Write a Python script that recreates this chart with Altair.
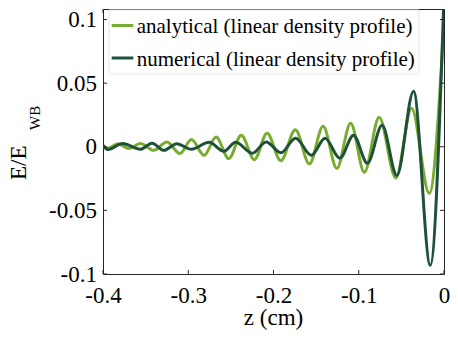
import altair as alt
import pandas as pd

# ---- data ----
z_analytical = [-0.4, -0.3942, -0.3827, -0.3692, -0.3562, -0.3404, -0.3251, -0.3097, -0.2963,
                -0.2813, -0.2674, -0.2524, -0.2378, -0.2225, -0.2075, -0.1914, -0.1744, -0.1579,
                -0.1418, -0.1257, -0.1095, -0.0934, -0.0761, -0.0565, -0.0380, -0.0173, 0.0]
e_analytical = [0.0004, -0.0012, 0.0024, -0.0014, 0.0025, -0.0028, 0.0038, -0.0053, 0.0057,
                -0.0067, 0.0077, -0.0093, 0.0090, -0.0101, 0.0106, -0.0110, 0.0134, -0.0134,
                0.0161, -0.0169, 0.0185, -0.0200, 0.0232, -0.0245, 0.0303, -0.0366, 0.0971]

z_numerical = [-0.4, -0.3942, -0.3769, -0.3562, -0.3424, -0.3285, -0.3135, -0.2963, -0.2755,
               -0.2582, -0.2444, -0.2248, -0.2086, -0.1914, -0.1741, -0.1556, -0.1395, -0.1222,
               -0.1061, -0.0899, -0.0726, -0.0553, -0.0357, -0.0161, 0.0]
e_numerical = [0.0012, -0.0022, 0.0025, -0.0020, 0.0028, -0.0028, 0.0024, -0.0020, 0.0035,
               -0.0035, 0.0035, -0.0051, 0.0038, -0.0047, 0.0067, -0.0067, 0.0067, -0.0090,
               0.0090, -0.0130, 0.0169, -0.0225, 0.0436, -0.0932, 0.119]

x_ticks = [-0.4, -0.3, -0.2, -0.1, 0]
y_ticks = [-0.1, -0.05, 0, 0.05, 0.1]
series_names = ["analytical (linear density profile)", "numerical (linear density profile)"]
colors = ["#77AC30", "#1e5138"]
x_title = "z (cm)"
y_title_main = "E/E"
y_title_sub = "WB"

# ---- layout ----
W, H = 341, 265
FONT = "Liberation Serif"
AX = "#262626"
xs = alt.Scale(domain=[-0.4, 0], nice=False, zero=False)
ys = alt.Scale(domain=[-0.1, 0.1083], nice=False, zero=False)
lab = "datum.value == 0 ? '0' : (datum.value < 0 ? '-' : '') + format(abs(datum.value), '~g')"

x_axis = alt.Axis(values=x_ticks, labelExpr=lab, ticks=False, tickSize=0, domain=False, grid=False,
                  title=None, labelFont=FONT, labelFontSize=23, labelColor="#000",
                  labelPadding=10, labelFlush=False, labelOverlap=False)
y_axis = alt.Axis(values=y_ticks, labelExpr=lab, ticks=False, tickSize=0, domain=False, grid=False,
                  title=None, labelFont=FONT, labelFontSize=23, labelColor="#000",
                  labelPadding=6.5, labelFlush=False, labelOverlap=False)

df_a = pd.DataFrame({"z": z_analytical, "e": e_analytical})
df_n = pd.DataFrame({"z": z_numerical, "e": e_numerical})
df_xt = pd.DataFrame({"v": x_ticks})
df_yt = pd.DataFrame({"v": y_ticks})
one = alt.Data(values=[{"k": 0}])

def line(df, color):
    return alt.Chart(df).mark_line(color=color, strokeWidth=3, interpolate="monotone", clip=True).encode(
        x=alt.X("z:Q", scale=xs, axis=x_axis), y=alt.Y("e:Q", scale=ys, axis=y_axis))

def xtick(y0, y1):
    return alt.Chart(df_xt).mark_rule(color=AX, strokeWidth=1).encode(
        x=alt.X("v:Q", scale=xs, axis=x_axis), y=alt.value(y0), y2=alt.value(y1))

def ytick(x0, x1):
    return alt.Chart(df_yt).mark_rule(color=AX, strokeWidth=1).encode(
        y=alt.Y("v:Q", scale=ys, axis=y_axis), x=alt.value(x0), x2=alt.value(x1))

def txt(s, x, y, size, angle=0, align="left"):
    return alt.Chart(one).mark_text(text=s, font=FONT, fontSize=size, align=align,
                                    baseline="alphabetic", angle=angle, color="#000").encode(
        x=alt.value(x), y=alt.value(y))

def legline(y, color):
    return alt.Chart(one).mark_rule(color=color, strokeWidth=3).encode(
        x=alt.value(8.7), x2=alt.value(30.3), y=alt.value(y))

legend_box = alt.Chart(one).mark_rect(fill="white", stroke="#e6e6e6", strokeWidth=1).encode(
    x=alt.value(6), x2=alt.value(316), y=alt.value(1), y2=alt.value(65))

chart = alt.layer(
    line(df_a, colors[0]),
    line(df_n, colors[1]),
    xtick(H, H - 4), xtick(0, 4),
    ytick(0, 4), ytick(W, W - 4),
    legend_box,
    legline(16.5, colors[0]), legline(49, colors[1]),
    txt(series_names[0], 33.7, 24, 21),
    txt(series_names[1], 33.7, 56.5, 21),
    txt(x_title, W / 2, 316, 23, align="center"),
    txt(y_title_main, -77, 171, 23, angle=270),
    txt(y_title_sub, -63, 121, 15, angle=270),
).properties(
    width=W, height=H,
    autosize=alt.AutoSizeParams(type="none"),
    padding={"left": 95, "top": 1, "right": 6, "bottom": 56},
).configure_view(stroke=AX, strokeWidth=1)

chart.save("out.html", embed_options={"renderer": "svg", "actions": False})
